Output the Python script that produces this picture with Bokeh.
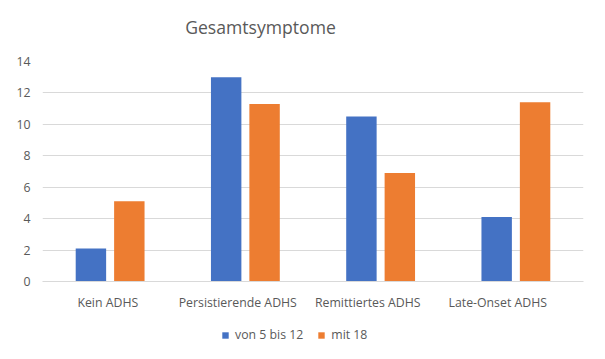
from bokeh.plotting import figure
from bokeh.models import (ColumnDataSource, Range1d, FixedTicker,
                          Legend, LegendItem, Label)
from bokeh.layouts import column
from bokeh.embed import file_html
from bokeh.resources import INLINE

categories = ["Kein ADHS", "Persistierende ADHS", "Remittiertes ADHS", "Late-Onset ADHS"]
series_names = ["von 5 bis 12", "mit 18"]
von_5_bis_12 = [2.1, 13.0, 10.5, 4.1]
mit_18 = [5.1, 11.3, 6.9, 11.4]
y_ticks = [0, 2, 4, 6, 8, 10, 12, 14]
title_text = "Gesamtsymptome"

BLUE = "#4472C4"
ORANGE = "#ED7D31"
TEXT = "#595959"
GRID = "#D9D9D9"
FONT = "Open Sans"

n = len(categories)
idx = list(range(n))
OFF = 0.142
W = 0.225
source = ColumnDataSource(data=dict(
    xa=[i + 0.5 - OFF for i in idx], xb=[i + 0.5 + OFF for i in idx],
    a=von_5_bis_12, b=mit_18))

# category label positions (as placed in the reference, slightly left of group centres)
label_pos = [round(0.483 + 0.961 * i, 3) for i in idx]

ML, MR = 42, 20  # left / right borders shared by all strips

# ---- title strip
p0 = figure(width=603, height=51, x_range=Range1d(ML, 603 - MR), y_range=Range1d(0, 51),
            output_backend="svg", toolbar_location=None,
            x_axis_location=None, y_axis_location=None,
            min_border_left=ML, min_border_right=MR,
            min_border_top=0, min_border_bottom=0)
p0.outline_line_color = None
p0.xgrid.visible = False
p0.ygrid.visible = False
p0.add_layout(Label(x=260, y=24.5, text=title_text, text_align="center",
                    text_baseline="middle", text_font=FONT,
                    text_font_size="17.6px", text_color=TEXT))

# ---- chart
p = figure(frame_width=541, frame_height=220,
           x_range=Range1d(0, n), y_range=Range1d(0, 14),
           output_backend="svg", toolbar_location=None,
           min_border_left=ML, min_border_right=MR,
           min_border_top=10, min_border_bottom=36)

r1 = p.vbar(x="xa", top="a", width=W, source=source,
            fill_color=BLUE, line_color=None)
r2 = p.vbar(x="xb", top="b", width=W, source=source,
            fill_color=ORANGE, line_color=None)

p.outline_line_color = None
p.xgrid.grid_line_color = None
p.ygrid.grid_line_color = GRID
p.ygrid.grid_line_width = 1

p.yaxis.ticker = FixedTicker(ticks=y_ticks)
p.yaxis.axis_line_color = None
p.yaxis.major_tick_line_color = None
p.yaxis.minor_tick_line_color = None
p.yaxis.major_tick_out = 0
p.yaxis.major_tick_in = 0
p.yaxis.major_label_standoff = 12
p.yaxis.major_label_text_font = FONT
p.yaxis.major_label_text_font_size = "12.3px"
p.yaxis.major_label_text_color = TEXT

p.xaxis.ticker = FixedTicker(ticks=label_pos)
p.xaxis.major_label_overrides = {pos: cat for pos, cat in zip(label_pos, categories)}
p.xaxis.axis_line_color = GRID
p.xaxis.major_tick_line_color = None
p.xaxis.minor_tick_line_color = None
p.xaxis.major_tick_out = 0
p.xaxis.major_tick_in = 0
p.xaxis.major_label_standoff = 12
p.xaxis.major_label_text_font = FONT
p.xaxis.major_label_text_font_size = "12.3px"
p.xaxis.major_label_text_color = TEXT

# ---- legend strip (its swatch renderers have zero height, so draw nothing)
p2 = figure(width=603, height=41, x_range=Range1d(0, n), y_range=Range1d(0, 14),
            output_backend="svg", toolbar_location=None,
            x_axis_location=None, y_axis_location=None,
            min_border_left=ML, min_border_right=MR,
            min_border_top=0, min_border_bottom=0)
p2.outline_line_color = None
p2.xgrid.visible = False
p2.ygrid.visible = False
l1 = p2.vbar(x="xa", top="a", bottom="a", width=W, source=source,
             fill_color=BLUE, line_color=None)
l2 = p2.vbar(x="xb", top="b", bottom="b", width=W, source=source,
             fill_color=ORANGE, line_color=None)

legend = Legend(items=[LegendItem(label=series_names[0], renderers=[l1], index=0),
                       LegendItem(label=series_names[1], renderers=[l2], index=0)],
                orientation="horizontal", location=(221 - ML, 15),
                glyph_width=8, glyph_height=8, label_height=14,
                label_standoff=6, spacing=14, padding=0, margin=0,
                border_line_color=None, background_fill_alpha=0,
                label_text_font=FONT, label_text_font_size="12.3px",
                label_text_color=TEXT)
p2.add_layout(legend, "center")

layout = column(p0, p, p2, spacing=0)
open("out.html", "w").write(file_html(layout, INLINE))
